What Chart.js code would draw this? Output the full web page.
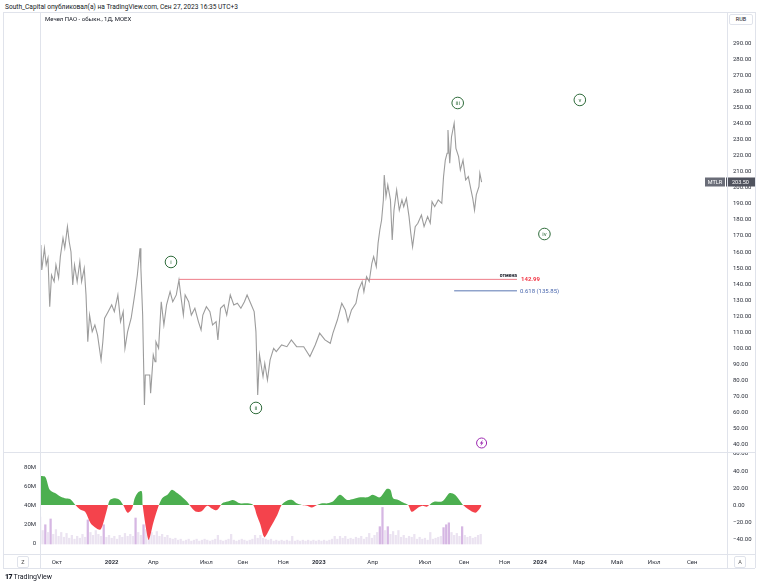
<!DOCTYPE html>
<html><head><meta charset="utf-8">
<script src="https://cdn.jsdelivr.net/npm/chart.js@4.4.0/dist/chart.umd.min.js"></script>
<style>
html,body{margin:0;padding:0;background:#fff;width:758px;height:585px;overflow:hidden;font-family:Roboto,"Noto Sans",sans-serif;}
.abs{position:absolute;}
.hl{position:absolute;height:1px;background:#e0e3eb;}
.vl{position:absolute;width:1px;background:#e0e3eb;}
.btn{position:absolute;width:10px;height:10px;border:1px solid #e0e3eb;border-radius:2px;font-size:5.5px;color:#555;text-align:center;line-height:10px;}
</style></head><body>
<div class="abs" style="left:5px;top:3px;font-size:6.6px;color:#131722;white-space:nowrap">South_Capital опубликовал(а) на TradingView.com, Сен 27, 2023 16:35 UTC+3</div>
<canvas id="priceChart" class="abs" style="left:0;top:12px" width="758" height="440"></canvas>
<canvas id="lowerChart" class="abs" style="left:0;top:452px" width="758" height="116"></canvas>
<div class="hl" style="left:3px;top:12px;width:752px"></div>
<div class="hl" style="left:3px;top:452px;width:752px"></div>
<div class="hl" style="left:3px;top:554px;width:752px"></div>
<div class="hl" style="left:3px;top:568px;width:752px"></div>
<div class="vl" style="left:3px;top:12px;height:556px"></div>
<div class="vl" style="left:40px;top:12px;height:556px"></div>
<div class="vl" style="left:727px;top:12px;height:556px"></div>
<div class="vl" style="left:755px;top:12px;height:556px"></div>
<div class="abs" style="left:45px;top:15px;font-size:6px;color:#131722;white-space:nowrap">Мечел ПАО - обыкн., 1Д, MOEX</div>
<div class="abs" style="left:729px;top:14px;width:22px;height:9px;border:1px solid #e0e3eb;border-radius:2px;font-size:5.5px;line-height:9px;text-align:center;color:#131722;background:#fff">RUB</div>
<div class="btn" style="left:17px;top:556px">Z</div>
<div class="btn" style="left:734px;top:556px">A</div>
<div class="abs" style="left:5px;top:573px;font-size:7px;color:#131722;white-space:nowrap"><span style="font-weight:900;letter-spacing:-0.6px">17</span> TradingView</div>
<script>
const FONT = 'Roboto, "Noto Sans", sans-serif';
// ---- price series (bar index, close) ----
const priceIdx = [0,1,2,5,7,9,11,13,16,18,21,23,26,28,31,33,35,37,39,42,45,47,50,52,54,56,59,62,65,69,71,73,77,81,84,88,91,94,96,99,103,107,110,113,114,116,118,119,124,125,128,130,131,134,137,140,143,147,150,154,157,159,162,164,168,171,175,179,182,184,188,192,195,199,201,204,208,211,215,219,223,227,231,234,238,242,244,246,248,252,254,257,260,264,267,273,279,284,290,298,305,311,316,322,328,331,336,341,345,348,352,357,360,364,366,369,372,375,377,380,382,384,386,388,389,391,393,396,398,400,403,406,409,411,414,417,419,421,424,427,431,434,438,441,443,446,450,454,456,458,460,461,463,465,468,470,473,475,478,481,484,487,489,491,493,496,497,499];
const priceVals = [158,164.4,148.8,162.3,152,156.3,126,145.7,141.6,152,143.9,157.1,168.7,162.5,175.8,166.4,160.2,139.5,152,141.6,154,141.6,149.9,133.3,104.2,120.8,110.5,114.6,108.4,92.9,104.2,118.8,122.9,127.1,122.9,133.3,116.7,122.9,100.1,110.5,118.8,133.3,145.7,162.3,149.9,120.8,64.9,83.5,83.5,72.2,96,91.8,104.2,100.1,129.1,114.6,127.1,135.3,129.1,133.3,142.6,133.3,120.8,133.3,129.1,120.8,125,116.7,111.5,120.8,126,122.9,114.6,116.7,105.3,125,127.1,120.8,133.3,127.1,128.1,125,129.1,133.3,128.1,122.9,110.5,71.1,96,82.5,90.8,80.4,92.9,100.1,98,102.2,101.1,105.3,101.1,101.1,95,102.2,109.5,105.3,103.2,109.5,117.7,128.1,124,116.7,124,128.1,136.4,141.6,135.3,144.7,141.6,153,157.1,150.9,165.4,173.7,179.9,192.4,207.9,194.4,201.7,192.4,167.5,186.1,198.6,186.1,192.4,188.2,193.4,182,171.7,163.3,175.8,177.9,183,175.8,182,177.9,191.3,188.2,192.4,190.3,206.9,217.2,221.4,235.9,215.2,231.7,240.1,224.5,219.3,211,217.2,204.8,206.9,198.6,193.4,186.1,195.5,200.6,209,203.5];
const priceTicks = [40,50,60,70,80,90,100,110,120,130,140,150,160,170,180,190,200,210,220,230,240,250,260,270,280,290];
const symbol = 'MTLR';
// ---- levels ----
const cancelLevel = 142.99, cancelFrom = 157, cancelText = 'отмена';
const fibRatio = '0.618', fibLevel = 135.85, fibFrom = 468;
const levelTo = 539;
// ---- wave labels ----
const waveNames = ['i','ii','iii','iv','v'];
const waveIdx = [148,244,472,570,610];
const wavePrice = [153.8,63,252.7,171.2,254.6];
const eventIdx = 499, eventPrice = 41.2;
// ---- oscillator ----
const oscIdx = [1,6,11,17,23,28,34,40,45,51,57,62,68,71,76,79,85,90,94,99,104,107,111,115,116,121,123,128,133,138,144,149,155,160,166,172,177,183,189,194,200,206,212,218,226,235,241,245,249,252,254,260,268,273,279,285,290,296,302,307,313,319,325,331,339,347,354,362,370,376,384,392,396,399,405,412,416,420,426,432,437,441,446,454,458,463,469,475,478,484,492,497,499];
const oscVals = [34,33,18,14,10,8,7,0,-5,-8,-21,-26,-29,-23,-4,6,8,6,0,-9,-4,8,15,16,0,-35,-41,-21,-4,8,12,18,14,10,4,-4,-8,-7,-1,-4,-6,2,4,6,2,2,0,-12,-23,-35,-38,-27,-12,0,5,6,2,0,-1,-3,0,2,2,4,12,6,7,9,9,12,9,19,18,8,6,2,0,-8,-4,-1,-2,1,4,4,8,14,12,4,0,-5,-9,-4,-1];
const oscTicks = [-40,-20,0,20,40,60];
// ---- volume (millions), one value every 3 bars ----
const volStep = 3;
const volVals = [28,14,20,12,26,10,15,8,12,7,11,6,9,5,8,6,10,7,25,12,9,14,10,8,20,7,9,6,8,5,9,7,11,8,10,8,27,12,9,20,15,5,12,9,13,8,10,7,9,6,5,6,4,5,3,4,5,3,4,5,3,4,5,4,3,4,5,9,4,3,4,5,10,4,3,4,5,4,3,4,5,9,6,9,6,5,4,5,3,4,3,4,3,4,3,8,3,4,3,4,3,4,3,4,3,4,3,4,3,4,5,8,5,8,6,8,5,6,5,7,6,8,5,7,11,6,9,12,18,38,14,18,10,13,9,14,7,9,6,8,7,10,5,7,5,6,4,12,5,6,7,8,17,20,22,12,9,11,8,18,9,7,8,6,7,9,10];
const volTicks = [0,20,40,60,80];
// ---- time axis ----
const tickBars = [19,81,128,188,229,275,315,376,435,479,525,565,609,652,694,737];
const tickLabels = ['Окт','2022','Апр','Июл','Сен','Ноя','2023','Апр','Июл','Сен','Ноя','2024','Мар','Май','Июл','Сен'];
const xMax = 776.3;

function labelFor(v){ const i = tickBars.indexOf(v); return i>=0 ? tickLabels[i] : ''; }

const overlay = {
  id:'overlay',
  afterDatasetsDraw(chart){
    const ctx = chart.ctx, xs = chart.scales.x, ys = chart.scales.y;
    ctx.save();
    const xe = xs.getPixelForValue(levelTo);
    const yc = ys.getPixelForValue(cancelLevel), yf = ys.getPixelForValue(fibLevel);
    ctx.font = 'bold 5px ' + FONT; ctx.fillStyle = '#131722'; ctx.textAlign='right'; ctx.textBaseline='bottom';
    ctx.fillText(cancelText, xe, yc - 1);
    ctx.font = 'bold 6px ' + FONT; ctx.fillStyle = '#f23645'; ctx.textAlign='left'; ctx.textBaseline='middle';
    ctx.fillText(cancelLevel.toFixed(2), xe + 4, yc + 0.5);
    ctx.font = '6px ' + FONT; ctx.fillStyle = '#4a67ad';
    ctx.fillText(fibRatio + ' (' + fibLevel.toFixed(2) + ')', xe + 3, yf + 0.5);
    waveNames.forEach((n,i)=>{
      const cx = xs.getPixelForValue(waveIdx[i]), cy = ys.getPixelForValue(wavePrice[i]);
      ctx.beginPath(); ctx.arc(cx, cy, 5.8, 0, Math.PI*2);
      ctx.fillStyle='#fff'; ctx.fill(); ctx.lineWidth=1; ctx.strokeStyle='#2e6b3a'; ctx.stroke();
      ctx.fillStyle='#2e6b3a'; ctx.font='6px ' + FONT; ctx.textAlign='center'; ctx.textBaseline='middle';
      ctx.fillText(n, cx, cy + 0.5);
    });
    const ex = xs.getPixelForValue(eventIdx), ey = ys.getPixelForValue(eventPrice);
    ctx.beginPath(); ctx.arc(ex, ey, 5, 0, Math.PI*2);
    ctx.fillStyle='#fff'; ctx.fill(); ctx.strokeStyle='#9c27b0'; ctx.lineWidth=1; ctx.stroke();
    ctx.beginPath(); ctx.moveTo(ex+1.2, ey-3.3); ctx.lineTo(ex-1.8, ey+0.6); ctx.lineTo(ex-0.1, ey+0.6);
    ctx.lineTo(ex-1.1, ey+3.3); ctx.lineTo(ex+1.9, ey-0.6); ctx.lineTo(ex+0.2, ey-0.6); ctx.closePath();
    ctx.fillStyle='#9c27b0'; ctx.fill();
    ctx.restore();
  },
  afterDraw(chart){
    const ctx = chart.ctx, ys = chart.scales.y;
    const last = priceVals[priceVals.length-1];
    const y = Math.round(ys.getPixelForValue(last));
    ctx.save();
    ctx.fillStyle = '#6a6d78'; ctx.fillRect(705, y-4.5, 20, 9);
    ctx.fillStyle = '#50535e'; ctx.fillRect(726, y-4.5, 30, 9);
    ctx.fillStyle = '#fff'; ctx.font = '5.5px ' + FONT; ctx.textBaseline='middle';
    ctx.textAlign='center'; ctx.fillText(symbol, 715, y+0.5);
    ctx.textAlign='left'; ctx.fillText(last.toFixed(2), 732, y+0.5);
    ctx.restore();
  }
};

new Chart(document.getElementById('priceChart'), {
  type:'line',
  data:{datasets:[
    {data: priceIdx.map((x,i)=>({x, y: priceVals[i]})), borderColor:'#9c9c9c', borderWidth:1.1, pointRadius:0, tension:0},
    {data: [{x:cancelFrom, y:cancelLevel},{x:levelTo, y:cancelLevel}], borderColor:'#ee7d88', borderWidth:1, pointRadius:0},
    {data: [{x:fibFrom, y:fibLevel},{x:levelTo, y:fibLevel}], borderColor:'#5a76b2', borderWidth:1, pointRadius:0}
  ]},
  options:{
    responsive:false, animation:false, devicePixelRatio:1,
    layout:{padding:{left:40,right:0,top:0,bottom:0}},
    plugins:{legend:{display:false}, tooltip:{enabled:false}},
    scales:{
      x:{type:'linear', min:0, max:xMax, display:false},
      y:{type:'linear', position:'right', min:35.6, max:309.3,
        afterBuildTicks: s=>{ s.ticks = priceTicks.map(v=>({value:v})); },
        afterFit: s=>{ s.width = 31; s.paddingTop = 0; s.paddingBottom = 0; },
        grid:{display:false, drawTicks:false}, border:{display:false},
        ticks:{padding:6, color:'#2a2e39', font:{size:6, family:FONT}, callback:v=>Number(v).toFixed(2)}
      }
    }
  },
  plugins:[overlay]
});

new Chart(document.getElementById('lowerChart'), {
  type:'bar',
  data:{datasets:[
    {type:'line', data: oscIdx.map((x,i)=>({x, y: oscVals[i]})), yAxisID:'yOsc', borderWidth:0, borderColor:'rgba(0,0,0,0)',
     pointRadius:0, tension:0.3, fill:{target:{value:0}, above:'#4caf50', below:'#f4434c'}, order:0},
    {type:'bar', data: volVals.map((v,i)=>({x: i*volStep, y: v})), yAxisID:'yVol', barThickness:1.6, grouped:false,
     backgroundColor: c => (c.raw && c.raw.y >= 17) ? '#d6b7e3' : '#ebe3f1', order:1}
  ]},
  options:{
    responsive:false, animation:false, devicePixelRatio:1,
    layout:{padding:0},
    plugins:{legend:{display:false}, tooltip:{enabled:false}},
    scales:{
      x:{type:'linear', min:0, max:xMax, offset:false,
        afterBuildTicks: s=>{ s.ticks = tickBars.map(v=>({value:v})); },
        afterFit: s=>{ s.height = 14; s.paddingLeft = 0; s.paddingRight = 0; },
        grid:{display:false, drawTicks:false}, border:{display:false},
        ticks:{autoSkip:false, maxRotation:0, padding:5, color:'#2a2e39',
          font: c => ({size:6, family:FONT, weight: /^\d{4}$/.test(labelFor(c.tick ? c.tick.value : -1)) ? 'bold' : 'normal'}),
          callback: v => labelFor(v)}
      },
      yVol:{type:'linear', position:'left', min:-10.4, max:95.6,
        afterBuildTicks: s=>{ s.ticks = volTicks.map(v=>({value:v})); },
        afterFit: s=>{ s.width = 40; s.paddingTop = 0; s.paddingBottom = 0; },
        grid:{display:false, drawTicks:false}, border:{display:false},
        ticks:{padding:4, color:'#2a2e39', font:{size:6, family:FONT}, callback:v=> v===0 ? '0' : v + 'M'}
      },
      yOsc:{type:'linear', position:'right', min:-57.6, max:62.35,
        afterBuildTicks: s=>{ s.ticks = oscTicks.map(v=>({value:v})); },
        afterFit: s=>{ s.width = 31; s.paddingTop = 0; s.paddingBottom = 0; },
        grid:{display:false, drawTicks:false}, border:{display:false},
        ticks:{padding:6, color:'#2a2e39', font:{size:6, family:FONT}, callback:v=> (v<0 ? '−' + Math.abs(v).toFixed(2) : Number(v).toFixed(2))}
      }
    }
  }
});
</script>
</body></html>
